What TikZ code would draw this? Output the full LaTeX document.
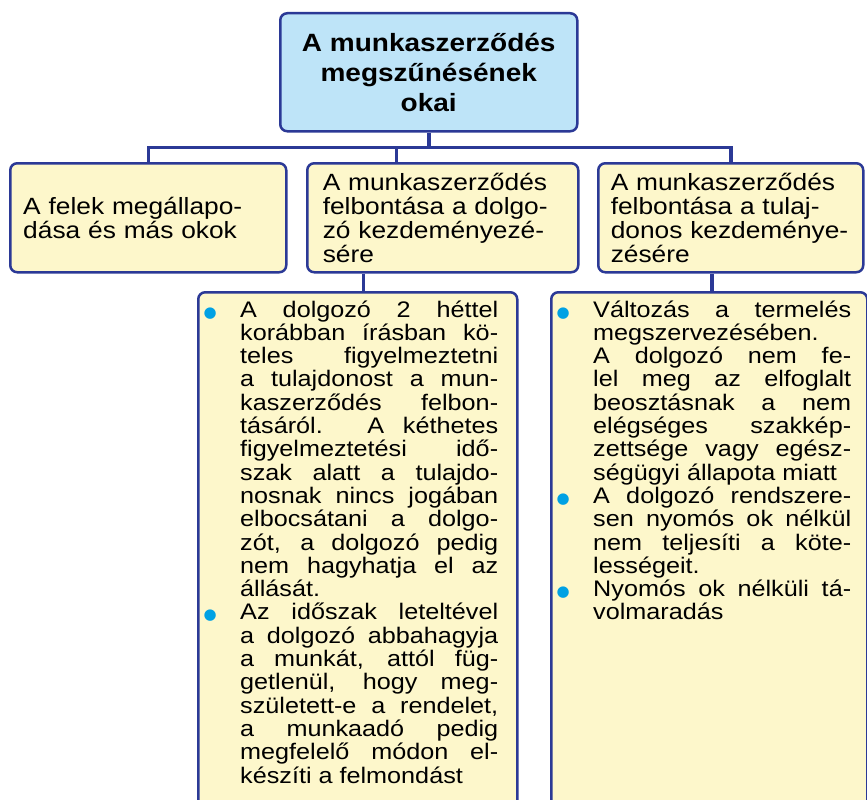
\documentclass[tikz,border=0pt]{standalone}
\usepackage{fontspec}
\setmainfont{Liberation Sans}[FakeStretch=1.12]
\newfontfamily\jelfont{DejaVu Sans}
\usetikzlibrary{calc}
\definecolor{keret}{RGB}{43,57,150}
\definecolor{kekhatter}{RGB}{190,228,248}
\definecolor{sarga}{RGB}{253,247,203}
\definecolor{pontszin}{RGB}{0,161,228}
\newcommand{\pont}{\leavevmode\llap{\makebox[10pt]{\jelfont\fontsize{15}{15}\selectfont
  \textcolor{pontszin}{●}}\hspace*{25pt}}}
\newcommand{\szoveg}[1]{\parbox[t]{258pt}{\fontsize{22.5}{23.3}\selectfont
  \parskip=0pt \tolerance=10000 \hyphenpenalty=10000 #1}}

\begin{document}
\begin{tikzpicture}[x=1pt, y=-1pt,
    doboz/.style={draw=keret, line width=2.5pt, rounded corners=7pt, fill=sarga,
      anchor=north west, inner sep=0pt},
    fodoboz/.style={doboz, fill=kekhatter, align=center,
      font=\bfseries\fontsize{25}{30}\selectfont},
    okdoboz/.style={doboz, minimum height=109pt, text width=240pt, align=left,
      font=\fontsize{23.5}{24}\selectfont},
    vonal/.style={draw=keret, line width=3.5pt}]
  \useasboundingbox (0,0) rectangle (867,800);
  \clip (0,0) rectangle (867,800);

  \node[fodoboz, minimum width=297pt, minimum height=118pt] (okok) at (279,12)
    {A munkaszerződés\\megszűnésének\\okai};

  \node[okdoboz, minimum width=276pt, text width=250pt] (megallapodas) at (9,162)
    {A felek megállapo-\\dása és más okok};
  \node[okdoboz, minimum width=271pt] (dolgozo) at (306,162)
    {A munkaszerződés\\felbontása a dolgo-\\zó kezdeményezé-\\sére};
  \node[okdoboz, minimum width=265pt] (tulajdonos) at (597,162)
    {A munkaszerződés\\felbontása a tulaj-\\donos kezdeménye-\\zésére};

  \node[doboz, minimum width=319pt, minimum height=530pt] (dolgozoi) at (197,291) {};
  \node[doboz, minimum width=316pt, minimum height=530pt] (tulajdonosi) at (550,291) {};

  \node[anchor=base west, inner sep=0pt] (dolgozoszoveg) at (240,317) {\szoveg{%
    \pont A dolgozó 2 héttel\linebreak korábban írásban kö-\linebreak teles figyelmeztetni\linebreak
    a tulajdonost a mun-\linebreak kaszerződés felbon-\linebreak tásáról. A kéthetes\linebreak
    figyelmeztetési idő-\linebreak szak alatt a tulajdo-\linebreak nosnak nincs jogában\linebreak
    elbocsátani a dolgo-\linebreak zót, a dolgozó pedig\linebreak nem hagyhatja el az\linebreak
    állását.\par
    \pont Az időszak leteltével\linebreak a dolgozó abbahagyja\linebreak a munkát, attól füg-\linebreak
    getlenül, hogy meg-\linebreak született-e a rendelet,\linebreak a munkaadó pedig\linebreak
    megfelelő módon el-\linebreak készíti a felmondást}};
  \node[anchor=base west, inner sep=0pt] (tulajdonosszoveg) at (593,317) {\szoveg{%
    \pont Változás a termelés\linebreak megszervezésében.\newline A dolgozó nem fe-\linebreak
    lel meg az elfoglalt\linebreak beosztásnak a nem\linebreak elégséges szakkép-\linebreak
    zettsége vagy egész-\linebreak ségügyi állapota miatt\par
    \pont A dolgozó rendszere-\linebreak sen nyomós ok nélkül\linebreak nem teljesíti a köte-\linebreak
    lességeit.\par
    \pont Nyomós ok nélküli tá-\linebreak volmaradás}};

  \coordinate (csomo) at ($(okok.south)+(0,15)$);
  \draw[vonal] (okok.south) -- (csomo);
  \draw[vonal] (megallapodas.north) |- (csomo) -| (tulajdonos.north);
  \coordinate (dolgozo-be) at ($(dolgozo.north west)!.33!(dolgozo.north east)$);
  \draw[vonal] (dolgozo-be) -- (dolgozo-be |- csomo);
  \coordinate (dolgozo-ki) at ($(dolgozo.south west)!.21!(dolgozo.south east)$);
  \draw[vonal] (dolgozo-ki) -- (dolgozo-ki |- dolgozoi.north);
  \coordinate (tulajdonos-ki) at ($(tulajdonos.south west)!.43!(tulajdonos.south east)$);
  \draw[vonal] (tulajdonos-ki) -- (tulajdonos-ki |- tulajdonosi.north);
\end{tikzpicture}
\end{document}
